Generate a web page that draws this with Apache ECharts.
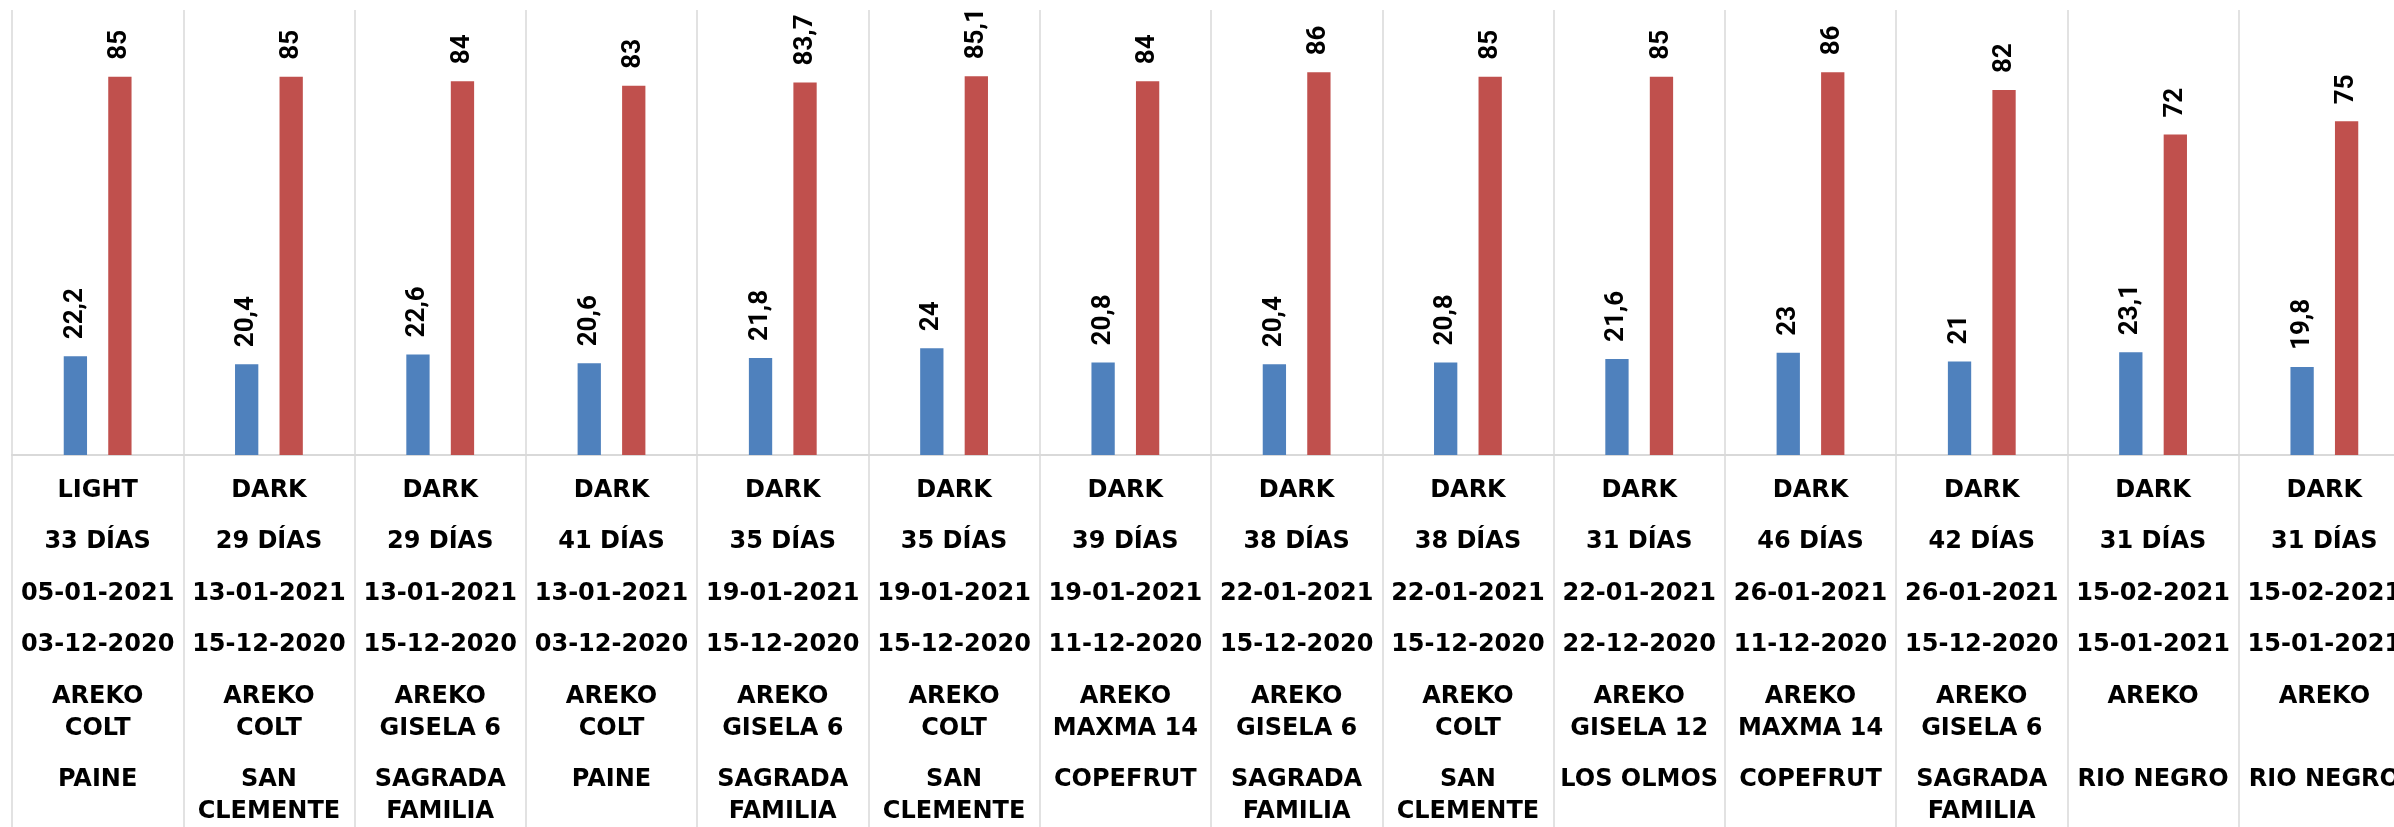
<!DOCTYPE html>
<html>
<head>
<meta charset="utf-8">
<script src="https://cdn.jsdelivr.net/npm/echarts@6/dist/echarts.min.js"></script>
<style>
  html, body { margin: 0; background: #fff; }
  #chart { width: 2394px; height: 827px; }
</style>
</head>
<body>
<div id="chart"></div>
<script>
// category rows (top to bottom under the axis)
const lotTypes = ['LIGHT', 'DARK', 'DARK', 'DARK', 'DARK', 'DARK', 'DARK', 'DARK', 'DARK', 'DARK', 'DARK', 'DARK', 'DARK', 'DARK'];
const dayCounts = ['33 DÍAS', '29 DÍAS', '29 DÍAS', '41 DÍAS', '35 DÍAS', '35 DÍAS', '39 DÍAS', '38 DÍAS', '38 DÍAS', '31 DÍAS', '46 DÍAS', '42 DÍAS', '31 DÍAS', '31 DÍAS'];
const dateTo = ['05-01-2021', '13-01-2021', '13-01-2021', '13-01-2021', '19-01-2021', '19-01-2021', '19-01-2021', '22-01-2021', '22-01-2021', '22-01-2021', '26-01-2021', '26-01-2021', '15-02-2021', '15-02-2021'];
const dateFrom = ['03-12-2020', '15-12-2020', '15-12-2020', '03-12-2020', '15-12-2020', '15-12-2020', '11-12-2020', '15-12-2020', '15-12-2020', '22-12-2020', '11-12-2020', '15-12-2020', '15-01-2021', '15-01-2021'];
const varieties = ['AREKO\nCOLT', 'AREKO\nCOLT', 'AREKO\nGISELA 6', 'AREKO\nCOLT', 'AREKO\nGISELA 6', 'AREKO\nCOLT', 'AREKO\nMAXMA 14', 'AREKO\nGISELA 6', 'AREKO\nCOLT', 'AREKO\nGISELA 12', 'AREKO\nMAXMA 14', 'AREKO\nGISELA 6', 'AREKO', 'AREKO'];
const growers = ['PAINE', 'SAN\nCLEMENTE', 'SAGRADA\nFAMILIA', 'PAINE', 'SAGRADA\nFAMILIA', 'SAN\nCLEMENTE', 'COPEFRUT', 'SAGRADA\nFAMILIA', 'SAN\nCLEMENTE', 'LOS OLMOS', 'COPEFRUT', 'SAGRADA\nFAMILIA', 'RIO NEGRO', 'RIO NEGRO'];

// series values
const blueValues = [22.2, 20.4, 22.6, 20.6, 21.8, 24, 20.8, 20.4, 20.8, 21.6, 23, 21, 23.1, 19.8];
const redValues = [85, 85, 84, 83, 83.7, 85.1, 84, 86, 85, 85, 86, 82, 72, 75];

const gridColor = '#d9d9d9';
const rowFont = {
  fontFamily: '"DejaVu Sans", sans-serif',
  fontWeight: 'bold',
  fontSize: 24,
  lineHeight: 32,
  color: '#000'
};
const valueLabel = {
  show: true,
  position: 'top',
  rotate: 90,
  align: 'left',
  verticalAlign: 'middle',
  distance: 17,
  fontFamily: '"Liberation Sans Narrow", "Roboto", sans-serif',
  fontWeight: 'bold',
  fontSize: 26,
  color: '#000',
  formatter: p => String(p.value).replace('.', ',')
};

function rowAxis (rows, margin) {
  return {
    type: 'category',
    gridIndex: 0,
    position: 'bottom',
    data: rows,
    axisLine: { show: false },
    axisTick: { show: false },
    splitLine: { show: false },
    axisLabel: Object.assign({ interval: 0, margin: margin, formatter: (v, i) => rows[i] }, rowFont)
  };
}

const chart = echarts.init(document.getElementById('chart'));

chart.setOption({
  animation: false,
  backgroundColor: '#fff',
  grid: { left: 12, top: 10, width: 2398, height: 445, outerBoundsMode: 'none' },
  yAxis: {
    type: 'value',
    min: 0,
    max: 100,
    show: false
  },
  xAxis: [
    {
      type: 'category',
      position: 'bottom',
      data: lotTypes,
      axisLine: { lineStyle: { color: gridColor, width: 2 } },
      axisTick: { show: true, interval: 0, length: 372, lineStyle: { color: gridColor, width: 1.5 } },
      splitLine: { show: true, interval: 0, lineStyle: { color: gridColor, width: 1.5 } },
      axisLabel: Object.assign({ interval: 0, margin: 20, formatter: (v, i) => lotTypes[i] }, rowFont)
    },
    rowAxis(dayCounts, 71),
    rowAxis(dateTo, 123),
    rowAxis(dateFrom, 174),
    rowAxis(varieties, 226),
    rowAxis(growers, 309)
  ],
  series: [
    {
      name: 'Serie 1',
      type: 'bar',
      xAxisIndex: 0,
      data: blueValues,
      barWidth: 23.3,
      barGap: '91%',
      itemStyle: { color: '#4f81bd' },
      label: valueLabel
    },
    {
      name: 'Serie 2',
      type: 'bar',
      xAxisIndex: 0,
      data: redValues,
      barWidth: 23.3,
      barGap: '91%',
      itemStyle: { color: '#c0504d' },
      label: valueLabel
    }
  ]
});
</script>
</body>
</html>
